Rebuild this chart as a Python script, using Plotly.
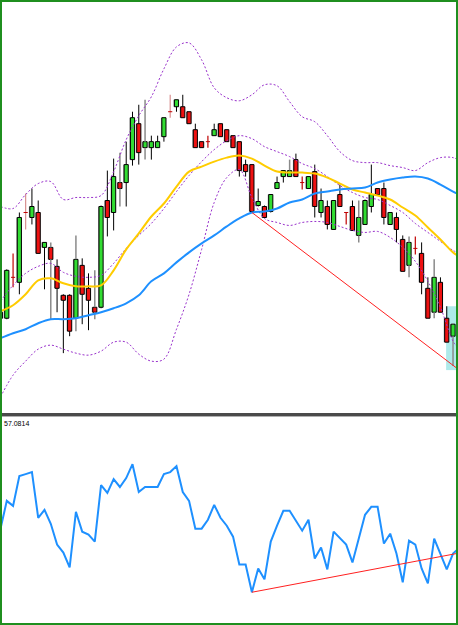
import plotly.graph_objects as go

W, H = 458, 625

# ---------------- data ----------------
opens  = [181,181,222,217,287,282,287,252,252,233,204,204,181,234,211,192,192,299,287,317,
          317,340,376,352,352,352,363,388,393,393,388,370,358,358,364,376,370,364,358,335,
          335,294,293,288,311,323,323,340,317,311,328,287,293,270,305,287,293,264,275,293,
          311,311,275,282,260,234,251,246,211,187,217,181,163]
highs  = [200,230,246,287,306,311,299,257,257,240,205,205,264,241,226,229,294,329,341,347,
          358,388,395,400,364,364,382,405,400,405,388,376,358,364,376,376,370,364,358,340,
          335,311,294,305,323,329,340,346,323,323,335,311,299,299,315,287,299,299,300,335,
          311,317,287,287,264,263,263,257,222,240,222,193,176]
lows   = [168,180,212,205,270,275,246,210,180,187,146,163,168,175,169,180,191,263,269,293,
          293,334,335,340,340,352,358,382,388,382,376,352,352,352,364,363,358,352,323,323,
          287,293,282,287,311,317,323,323,310,311,282,282,270,270,293,275,269,257,275,287,
          305,275,275,257,228,222,245,205,181,181,187,157,133]
closes = [187,229,222,282,287,293,246,257,240,211,199,168,240,205,199,187,293,282,323,311,
          335,382,347,358,358,358,382,388,400,382,376,352,352,358,370,363,358,352,329,328,
          288,298,282,305,317,329,329,323,317,323,293,299,275,299,293,287,269,282,299,305,
          305,282,287,270,228,257,251,217,181,222,187,157,175]

rsi = [64.8,76.0,74.0,86.0,86.8,87.6,69.2,72.4,66.8,58.4,55.2,49.2,71.6,63.6,62.4,59.6,
       82.4,79.2,84.8,81.6,85.2,90.8,79.6,81.6,81.6,81.6,86.8,87.6,90.0,79.6,76.0,64.8,
       64.8,68.4,74.4,69.2,66.0,61.6,50.4,50.4,39.2,48.8,44.4,59.6,66.0,72.0,72.0,68.0,
       64.0,68.4,52.8,57.2,48.4,63.6,61.2,58.4,51.2,60.4,70.4,73.6,73.6,58.8,62.8,54.8,
       43.2,60.0,58.4,48.8,42.8,60.8,54.4,48.4,54.8,57.08]
rsi_label = "57.0814"

line_idx = list(range(0, 73, 2)) + [73]
ma_blue   = [161,166,170,176,180,180,181,184,187,191,196,204,218,226,237,247,256,264,273,
             281,287,288,291,297,300,306,308,310,311,312,317,320,322,323,321,315,308,305]
ma_yellow = [188,194,205,219,221,216,213,213,214,229,250,266,283,296,313,328,333,338,342,
             344,341,334,328,327,327,326,322,316,310,307,304,300,292,284,272,260,247,243]
bb_upper  = [293,291,305,316,318,300,302,302,304,328,360,384,403,431,453,457,440,412,402,
             399,405,415,414,398,383,378,364,348,339,337,337,334,332,329,337,342,342,339]
bb_mid    = [198,214,226,233,236,227,223,222,224,236,251,264,276,291,308,324,338,350,359,
             364,361,353,348,343,336,331,323,314,307,302,300,294,287,276,267,258,249,246]
bb_lower  = [102,124,138,150,154,150,146,144,148,157,157,145,138,140,170,205,250,297,322,
             330,302,281,277,274,277,278,277,273,269,267,268,262,252,238,218,192,158,150]

trend_price_idx, trend_price_val = [40, 73], [287, 129]
trend_rsi_idx, trend_rsi_val = [40, 73], [39.2, 55.0]
box_idx, box_val = [70.9, 72.6], [129, 193]

# ---------------- styles ----------------
GREEN, RED = "#32dc32", "#ee1111"
gray_wick = {8, 12, 15, 19, 23, 46, 57, 65, 69, 72}
pink_doji = {4, 27}

n = len(opens)
idx = list(range(n))
doji = [i for i in idx if opens[i] == closes[i]]
body = [i for i in idx if opens[i] != closes[i]]

fig = go.Figure()

# wicks
def wick_xy(sel):
    xs, ys = [], []
    for i in sel:
        top, bot = max(opens[i], closes[i]), min(opens[i], closes[i])
        if highs[i] > top:
            xs += [i, i, None]; ys += [top, highs[i], None]
        if lows[i] < bot:
            xs += [i, i, None]; ys += [lows[i], bot, None]
    return xs, ys

wx, wy = wick_xy([i for i in body if i not in gray_wick])
fig.add_trace(go.Scatter(x=wx, y=wy, mode="lines", line=dict(color="black", width=1),
                         hoverinfo="skip", showlegend=False))
wx, wy = wick_xy([i for i in body if i in gray_wick])
fig.add_trace(go.Scatter(x=wx, y=wy, mode="lines", line=dict(color="#8a8a8a", width=1.5),
                         hoverinfo="skip", showlegend=False))

# body shadows (grey, slightly left) then bodies
fig.add_trace(go.Bar(
    x=[i - 0.12 for i in body],
    base=[min(opens[i], closes[i]) for i in body],
    y=[abs(closes[i] - opens[i]) for i in body],
    width=0.72, marker=dict(color="#9a9a9a", line=dict(width=0)),
    hoverinfo="skip", showlegend=False))
fig.add_trace(go.Bar(
    x=body,
    base=[min(opens[i], closes[i]) for i in body],
    y=[abs(closes[i] - opens[i]) for i in body],
    width=0.66,
    marker=dict(color=[GREEN if closes[i] > opens[i] else RED for i in body],
                line=dict(color="black", width=1)),
    hoverinfo="skip", showlegend=False))

# doji crosses
for i in doji:
    col = "#d89090" if i in pink_doji else "#c00000"
    fig.add_trace(go.Scatter(x=[i, i], y=[lows[i], highs[i]], mode="lines",
                             line=dict(color=col, width=1.2), hoverinfo="skip", showlegend=False))
    fig.add_trace(go.Scatter(x=[i - 0.33, i + 0.33], y=[opens[i], opens[i]], mode="lines",
                             line=dict(color="#c00000", width=1), hoverinfo="skip", showlegend=False))

# bollinger bands
for band in (bb_upper, bb_mid, bb_lower):
    fig.add_trace(go.Scatter(x=line_idx, y=band, mode="lines", line_shape="spline",
                             line=dict(color="#9932cc", width=1, dash="2px,2px"),
                             hoverinfo="skip", showlegend=False))

# moving averages
fig.add_trace(go.Scatter(x=line_idx, y=ma_yellow, mode="lines", line_shape="spline",
                         line=dict(color="#ffcc00", width=2), hoverinfo="skip", showlegend=False))
fig.add_trace(go.Scatter(x=line_idx, y=ma_blue, mode="lines", line_shape="spline",
                         line=dict(color="#1e90ff", width=2), hoverinfo="skip", showlegend=False))

# price trend line
fig.add_trace(go.Scatter(x=trend_price_idx, y=trend_price_val, mode="lines",
                         line=dict(color="#ff2020", width=1), hoverinfo="skip", showlegend=False))

# RSI panel
fig.add_trace(go.Scatter(x=list(range(len(rsi))), y=rsi, mode="lines", xaxis="x2", yaxis="y2",
                         line=dict(color="#1e90ff", width=2), hoverinfo="skip", showlegend=False))
fig.add_trace(go.Scatter(x=trend_rsi_idx, y=trend_rsi_val, mode="lines", xaxis="x2", yaxis="y2",
                         line=dict(color="#ff2020", width=1), hoverinfo="skip", showlegend=False))

xr = [-0.08, 72.79]
ax = dict(showgrid=False, zeroline=False, showticklabels=False, showline=False, ticks="",
          fixedrange=True)
fig.update_layout(
    width=W, height=H, margin=dict(l=0, r=0, t=0, b=0),
    paper_bgcolor="white", plot_bgcolor="white", showlegend=False, barmode="overlay",
    xaxis=dict(ax, range=xr, domain=[0, 1], anchor="y",
               showline=True, linecolor="#4a4a4a", linewidth=3, side="bottom"),
    yaxis=dict(ax, range=[86, 500], domain=[1 - 413 / H, 1], anchor="x"),
    xaxis2=dict(ax, range=xr, domain=[0, 1], anchor="y2",
                showline=True, linecolor="#b0b0b0", linewidth=1, side="top", mirror=False),
    yaxis2=dict(ax, range=[26, 110], domain=[0, 1 - 416.5 / H], anchor="x2"),
    annotations=[dict(text=rsi_label, xref="paper", yref="paper", x=3 / W, y=1 - 419 / H,
                      xanchor="left", yanchor="top", showarrow=False,
                      font=dict(family="Liberation Sans", size=7, color="black"),
                      borderpad=0)],
    shapes=[
        dict(type="rect", xref="x", yref="y", x0=box_idx[0], x1=box_idx[1],
             y0=box_val[0], y1=box_val[1], fillcolor="#aeeaea",
             line=dict(width=0), layer="below"),
        dict(type="rect", xref="paper", yref="paper", x0=1 / W, x1=1 - 1 / W,
             y0=1 / H, y1=1 - 1 / H, line=dict(color="#1f8f1f", width=2),
             fillcolor="rgba(0,0,0,0)", layer="above"),
    ],
)

fig.write_html("out.html")
